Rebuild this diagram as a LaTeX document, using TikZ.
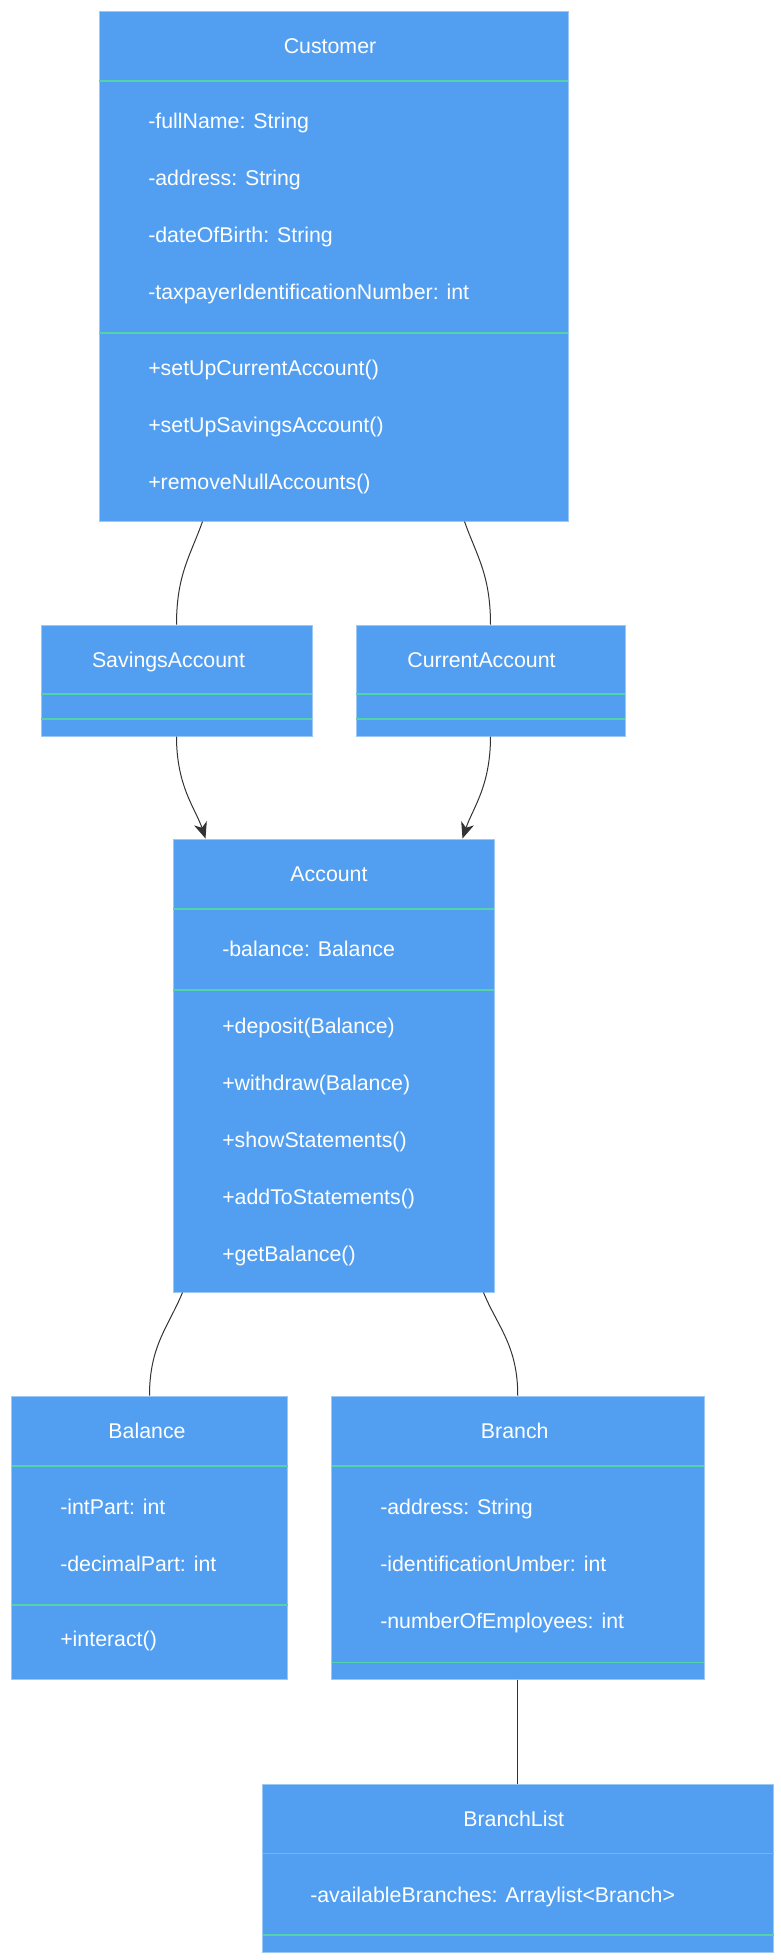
\documentclass[tikz,border=0pt]{standalone}
\usepackage{fontspec}
\setmainfont{Liberation Sans}
\usetikzlibrary{arrows.meta,calc,fit}
\definecolor{boxfill}{HTML}{529FF2}
\definecolor{boxline}{HTML}{9CC8F6}
\definecolor{divline}{HTML}{52D3A8}
\definecolor{edgecol}{HTML}{333333}
\tikzset{
  cls/.style={draw=boxline, fill=boxfill, line width=0.75pt, inner sep=0pt, rectangle},
  divider/.style={draw=divline, line width=1.1pt},
  txt/.style={anchor=base west, inner sep=0pt, text=white, font=\fontsize{16pt}{18pt}\selectfont},
  ttl/.style={anchor=base, inner sep=0pt, text=white, font=\fontsize{16pt}{18pt}\selectfont},
  edge/.style={draw=edgecol, line width=0.75pt},
  arr/.style={edge, -{Stealth[length=12pt, width=10pt, inset=3.5pt]}}
}
\begin{document}
\begin{tikzpicture}[x=0.75pt, y=-0.75pt]
\useasboundingbox (0,0) rectangle (781,1960);

% ---------- Customer ----------
\node[cls, fit={(99,11) (568,521)}] (customer) {};
\draw[divider] (99,81) -- (568,81);
\draw[divider] (99,333) -- (568,333);
\node[ttl] (customerT) at (330,53) {Customer};
\node[txt] (c1) at (148,128) {-fullName: String};
\node[txt] (c2) at (148,185) {-address: String};
\node[txt] (c3) at (148,242) {-dateOfBirth: String};
\node[txt] (c4) at (148,299) {-taxpayerIdentificationNumber: int};
\node[txt] (c5) at (148,375) {+setUpCurrentAccount()};
\node[txt] (c6) at (148,432) {+setUpSavingsAccount()};
\node[txt] (c7) at (148,489) {+removeNullAccounts()};

% ---------- SavingsAccount ----------
\node[cls, fit={(41,625) (312,736)}] (savings) {};
\draw[divider] (41,694) -- (312,694);
\draw[divider] (41,719) -- (312,719);
\node[ttl] (savingsT) at (168.5,667) {SavingsAccount};

% ---------- CurrentAccount ----------
\node[cls, fit={(356,625) (625,736)}] (current) {};
\draw[divider] (356,694) -- (625,694);
\draw[divider] (356,719) -- (625,719);
\node[ttl] (currentT) at (481.5,667) {CurrentAccount};

% ---------- Account ----------
\node[cls, fit={(173,839) (494,1292)}] (account) {};
\draw[divider] (173,909) -- (494,909);
\draw[divider] (173,990) -- (494,990);
\node[ttl] (accountT) at (329,881) {Account};
\node[txt] (a1) at (222,956) {-balance: Balance};
\node[txt] (a2) at (222,1033) {+deposit(Balance)};
\node[txt] (a3) at (222,1090) {+withdraw(Balance)};
\node[txt] (a4) at (222,1147) {+showStatements()};
\node[txt] (a5) at (222,1204) {+addToStatements()};
\node[txt] (a6) at (222,1261) {+getBalance()};

% ---------- Balance ----------
\node[cls, fit={(11.5,1396) (287.5,1679)}] (balance) {};
\draw[divider] (11.5,1466) -- (287.5,1466);
\draw[divider] (11.5,1605) -- (287.5,1605);
\node[ttl] (balanceT) at (147,1438) {Balance};
\node[txt] (b1) at (60,1514) {-intPart: int};
\node[txt] (b2) at (60,1571) {-decimalPart: int};
\node[txt] (b3) at (60,1646) {+interact()};

% ---------- Branch ----------
\node[cls, fit={(331.5,1396) (704,1679)}] (branch) {};
\draw[divider] (331.5,1466) -- (704,1466);
\draw[divider] (331.5,1662.5) -- (704,1662.5);
\node[ttl] (branchT) at (514.75,1438) {Branch};
\node[txt] (r1) at (380,1514) {-address: String};
\node[txt] (r2) at (380,1571) {-identificationUmber: int};
\node[txt] (r3) at (380,1628) {-numberOfEmployees: int};

% ---------- BranchList ----------
\node[cls, fit={(262.5,1784) (773.5,1952.5)}] (branchlist) {};
\draw[divider] (262.5,1853.6) -- (773.5,1853.6);
\draw[divider] (262.5,1935) -- (773.5,1935);
\node[ttl] (branchlistT) at (513.75,1826) {BranchList};
\node[txt] (l1) at (310,1902) {-availableBranches: Arraylist<Branch>};

% ---------- connectors ----------
\draw[edge] ($(customer.south west)+(104,0)$) .. controls +(-12,34) and +(0,-50) .. (savings.north);
\draw[edge] ($(customer.south east)+(-104,0)$) .. controls +(12,34) and +(0,-50) .. (current.north);
\draw[arr] (savings.south) .. controls +(0,50) and +(-10,-30) .. ($(account.north west)+(33,0)$);
\draw[arr] (current.south) .. controls +(0,50) and +(10,-30) .. ($(account.north east)+(-32,0)$);
\draw[edge] ($(account.south west)+(10,0)$) .. controls +(-14,34) and +(0,-50) .. (balance.north);
\draw[edge] ($(account.south east)+(-11,0)$) .. controls +(14,34) and +(0,-50) .. (branch.north);
\draw[edge] (branch.south) -- (branch.south |- branchlist.north);
\end{tikzpicture}
\end{document}
